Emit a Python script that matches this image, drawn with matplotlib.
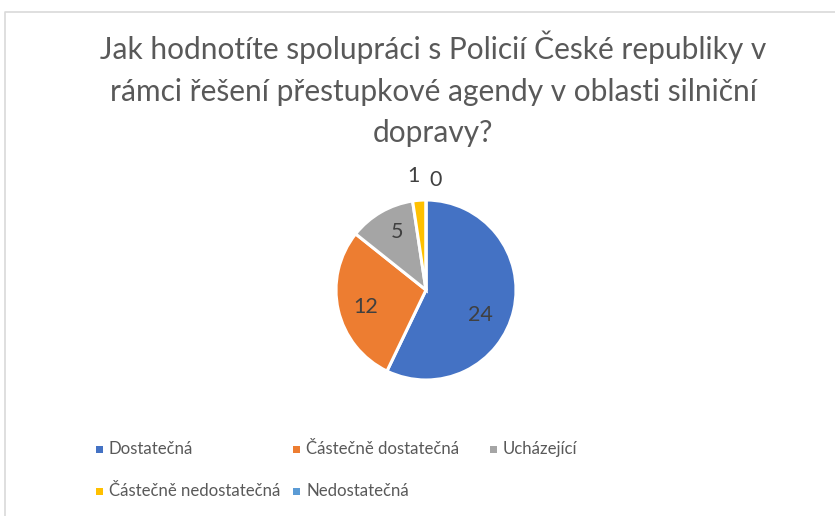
import numpy as np
import matplotlib
matplotlib.use("Agg")
import matplotlib.pyplot as plt
from matplotlib.lines import Line2D
from matplotlib.patches import Rectangle

# data
categories = ["Dostatečná", "Částečně dostatečná", "Ucházející",
              "Částečně nedostatečná", "Nedostatečná"]
values = [24, 12, 5, 1, 0]
colors = ["#4472C4", "#ED7D31", "#A5A5A5", "#FFC000", "#5B9BD5"]
title = ("Jak hodnotíte spolupráci s Policií České republiky v\n"
         "rámci řešení přestupkové agendy v oblasti silniční\n"
         "dopravy?")

# label placement (radius in pie units, angle nudge in degrees)
label_r = [0.67, 0.70, 0.72, 1.27, 1.23]
label_nudge = [-12, 3, -3, 2, -5]

plt.rcParams["font.family"] = ["Lato", "DejaVu Sans"]

W, H = 835, 516
fig = plt.figure(figsize=(W / 100, H / 100), dpi=100)
fig.patch.set_facecolor("white")

# chart area border (top + left visible)
fig.add_artist(Line2D([4.5 / W, 4.5 / W, 1.0], [0.0, 1 - 11.5 / H, 1 - 11.5 / H],
                      transform=fig.transFigure, color="#D9D9D9", lw=1.2))

fig.text(433 / W, 1 - 31 / H, title, ha="center", va="top", fontsize=21.5,
         color="#595959", linespacing=1.57)

cx, cy, R = 426, 290, 90
half = 110
ax = fig.add_axes([(cx - half) / W, (H - cy - half) / H, 2 * half / W, 2 * half / H])

wedges, _ = ax.pie(values, colors=colors, startangle=90, counterclock=False,
                   radius=1.0, center=(0, 0), frame=True,
                   wedgeprops=dict(edgecolor="white", linewidth=2.2))
ax.set_xlim(-half / R, half / R)
ax.set_ylim(-half / R, half / R)
ax.axis("off")

total = sum(values)
start = 90.0
for i, v in enumerate(values):
    sweep = v / total * 360
    mid = np.deg2rad(start - sweep / 2 + label_nudge[i])
    r = label_r[i]
    ax.text(r * np.cos(mid), r * np.sin(mid), str(v), ha="center", va="center",
            fontsize=15.5, color="#404040")
    start -= sweep

# legend, laid out like Excel (equal-width columns)
col_x = [96, 293, 490]
row_y = [449, 491]
for i, (name, c) in enumerate(zip(categories, colors)):
    x = col_x[i % 3]
    y = row_y[i // 3]
    fig.add_artist(Rectangle((x / W, 1 - (y + 3.5) / H), 7 / W, 7 / H,
                             transform=fig.transFigure, facecolor=c, edgecolor="none"))
    fig.text((x + 13) / W, 1 - y / H, name, ha="left", va="center",
             fontsize=12.1, color="#595959")

fig.savefig("out.png", dpi=100, facecolor="white")
